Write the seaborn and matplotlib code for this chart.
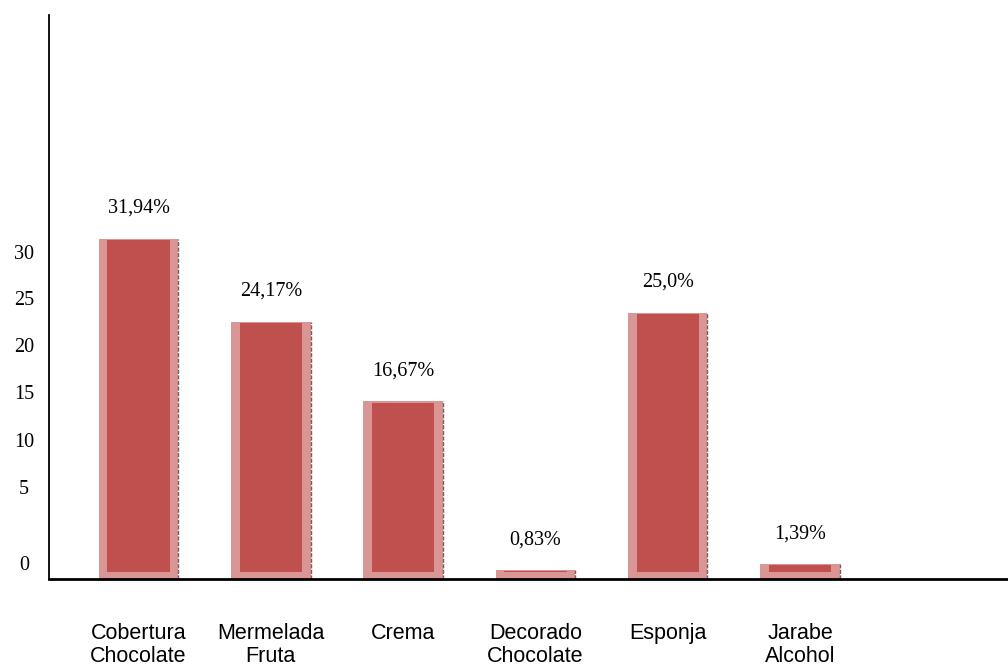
import matplotlib
matplotlib.use("Agg")
import matplotlib.pyplot as plt
import seaborn as sns
import pandas as pd

# ---- data ----
categories = ["Cobertura\nChocolate", "Mermelada\nFruta", "Crema",
              "Decorado\nChocolate", "Esponja", "Jarabe\nAlcohol"]
values = [31.94, 24.17, 16.67, 0.83, 25.0, 1.39]
value_labels = ["31,94%", "24,17%", "16,67%", "0,83%", "25,0%", "1,39%"]
ytick_labels = ["0", "5", "10", "15", "20", "25", "30"]

df = pd.DataFrame({"categoria": categories, "valor": values})

sns.set_style("white")
plt.rcParams["font.family"] = ["Liberation Sans", "DejaVu Sans"]
plt.rcParams["text.color"] = "black"
plt.rcParams["xtick.color"] = "black"
plt.rcParams["ytick.color"] = "black"
plt.rcParams["xtick.labelcolor"] = "black"
plt.rcParams["ytick.labelcolor"] = "black"

fig = plt.figure(figsize=(10.08, 6.66), dpi=100)
ax = fig.add_axes([49 / 1008, 87 / 666, 959 / 1008, 564 / 666])

OUTER = "#D99694"
INNER = "#C0504D"

# outer (light) bars
sns.barplot(data=df, x="categoria", y="valor", color=OUTER, saturation=1,
            width=0.6, ax=ax, edgecolor="none", linewidth=0, zorder=2)

# inner (dark) bars + right shadow edge
inset_bottom = 0.7
inset_top = 0.12
for i, v in enumerate(values):
    ax.bar(i, v - inset_bottom - inset_top, bottom=inset_bottom, width=0.47,
           color=INNER, linewidth=0, zorder=3)
    ax.vlines(i + 0.3, 0, v, color="#7a5c5c", linewidth=1.0, zorder=4,
              linestyles=(0, (3, 1)))
    ax.annotate(value_labels[i], xy=(i, v), xytext=(0, 22), textcoords="offset points",
                ha="center", va="center", fontsize=14.5, color="black",
                family="Liberation Serif")

ax.set_xlim(-0.677, 6.572)
ax.set_ylim(0, 52.96)

# y tick labels placed as in the reference image
ytick_pos = [1.5, 8.64, 13.05, 17.56, 21.97, 26.38, 30.7]
ax.set_yticks(ytick_pos)
ax.set_yticklabels(ytick_labels, fontsize=14.5, family="Liberation Serif", ha="center",
                   color="black")
ax.tick_params(axis="y", length=0, pad=18)

ax.set_xticks(range(len(categories)))
ax.set_xticklabels(categories, fontsize=15.5, linespacing=1.1, color="black")
ax.tick_params(axis="x", length=0, pad=32)

ax.set_xlabel("")
ax.set_ylabel("")
for s in ["top", "right"]:
    ax.spines[s].set_visible(False)
ax.spines["left"].set_color("black")
ax.spines["left"].set_linewidth(1.3)
ax.spines["bottom"].set_color("black")
ax.spines["bottom"].set_linewidth(2.0)
ax.spines["left"].set_zorder(5)
ax.spines["bottom"].set_zorder(5)

fig.savefig("out.png", dpi=100)
